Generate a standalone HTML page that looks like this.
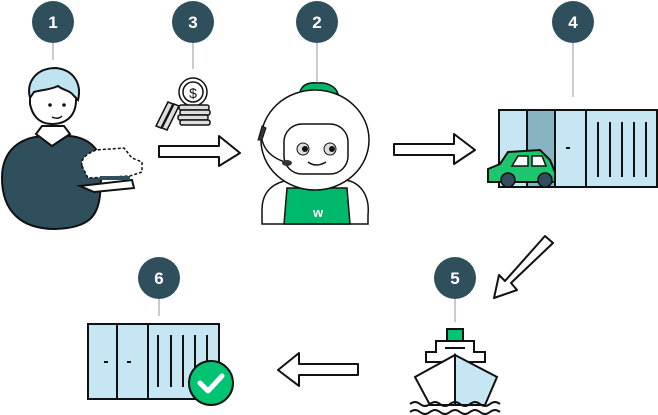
<!DOCTYPE html>
<html><head><meta charset="utf-8"><style>
html,body{margin:0;padding:0;background:#fff}
svg{display:block}
text{font-family:"Liberation Sans",sans-serif;font-weight:bold;fill:#fff;font-size:17px;text-anchor:middle}
</style></head><body>
<svg width="658" height="415" viewBox="0 0 658 415" xmlns="http://www.w3.org/2000/svg">
<g stroke="#c8ccd0" stroke-width="2">
<line x1="53" y1="42" x2="53" y2="60"/>
<line x1="193" y1="42" x2="193" y2="69"/>
<line x1="317" y1="42" x2="317" y2="82"/>
<line x1="573" y1="42" x2="573" y2="97"/>
<line x1="159" y1="298" x2="159" y2="316"/>
<line x1="455" y1="298" x2="455" y2="322"/>
</g>
<g fill="#2f4f5c">
<circle cx="53" cy="22" r="21"/><circle cx="193" cy="22" r="21"/>
<circle cx="317" cy="22" r="21"/><circle cx="573" cy="22" r="21"/>
<circle cx="159" cy="278" r="21"/><circle cx="455" cy="278" r="21"/>
</g>
<text x="53" y="28">1</text><text x="193" y="28">3</text><text x="317" y="28">2</text>
<text x="573" y="28">4</text><text x="159" y="284">6</text><text x="455" y="284">5</text>

<!-- arrows -->
<g fill="#fff" stroke="#111" stroke-width="2" stroke-linejoin="round">
<path d="M159,146 H219 V136 L240,153 L219,166 V157 H159 Z"/>
<path d="M394,144 H454 V134 L475,150 L454,164 V155 H394 Z"/>
<path d="M545,236 L553,243 L511,283 L517,290 L494,298 L499,275 L505,281 Z"/>
<path d="M358,364 H299 V353 L278,370 L299,386 V375 H358 Z"/>
</g>

<!-- person -->
<path d="M2,178 C2,150 20,138 42,136 L70,136 C90,138 100,150 102,165 L100,195 C98,215 90,228 55,229 C20,229 2,210 2,178 Z" fill="#2f4f5c" stroke="#111" stroke-width="2"/>
<path d="M36,134 L52,146 L70,134 L64,126 L42,126 Z" fill="#fff" stroke="#111" stroke-width="2"/>
<path d="M30,96 C28,80 40,70 56,72 C70,74 78,86 76,100 C76,116 66,124 52,124 C38,124 32,114 30,104 Z" fill="#fff" stroke="#111" stroke-width="2"/>
<path d="M30,98 C26,82 36,68 56,68 C74,70 82,84 78,100 L74,96 C70,90 62,90 58,86 C50,90 40,90 34,92 Z" fill="#bfe3f0" stroke="#111" stroke-width="2"/>
<circle cx="50" cy="105" r="1.8" fill="#111"/><circle cx="64" cy="105" r="1.8" fill="#111"/>
<path d="M52,117 Q58,120 62,116" stroke="#111" fill="none" stroke-width="1.5"/>
<path d="M80,186 L132,180 L134,188 L94,192 Z" fill="#fff" stroke="#111" stroke-width="2"/>
<path d="M82,166 C80,156 92,152 96,150 L124,148 L132,158 L142,162 L142,172 L130,176 L88,178 Z" fill="#fff" stroke="#111" stroke-width="1.5" stroke-dasharray="3,2"/>
<rect x="100" y="176" width="30" height="4" fill="#2f4f5c"/>

<!-- coins -->
<g stroke="#111" stroke-width="1.5" fill="#fff">
<circle cx="193" cy="92" r="14"/><circle cx="193" cy="92" r="10"/>
<rect x="179" y="105" width="30" height="5" rx="2" fill="#ddd"/>
<rect x="180" y="110" width="30" height="5" rx="2" fill="#ddd"/>
<rect x="178" y="115" width="30" height="5" rx="2" fill="#ddd"/>
<rect x="180" y="120" width="30" height="5" rx="2" fill="#ddd"/>
<path d="M156,126 L168,102 L173,104 L161,128 Z" fill="#ddd"/>
<path d="M162,128 L174,104 L179,106 L167,130 Z" fill="#ddd"/>
</g>
<text x="193" y="98" style="fill:#111;font-size:14px;font-weight:normal">$</text>

<!-- robot -->
<path d="M262,210 C262,190 275,182 290,180 L345,180 C360,182 370,195 368,215 L368,224 L262,224 Z" fill="#fff" stroke="#111" stroke-width="1.5"/>
<path d="M287,188 L347,188 L350,224 L284,224 Z" fill="#00b86b" stroke="#111" stroke-width="1.5"/>
<text x="318" y="217" style="font-size:13px">w</text>
<path d="M300,92 C302,84 310,82 318,83 C326,82 336,86 338,94 Z" fill="#00b86b" stroke="#111" stroke-width="1.5"/>
<ellipse cx="315" cy="140" rx="54" ry="50" fill="#fff" stroke="#111" stroke-width="1.5"/>
<rect x="284" y="124" width="64" height="50" rx="18" fill="#fff" stroke="#111" stroke-width="1.5"/>
<circle cx="303" cy="149" r="6" fill="#ddd" stroke="#111"/><circle cx="330" cy="149" r="6" fill="#ddd" stroke="#111"/>
<circle cx="305" cy="149" r="3" fill="#111"/><circle cx="332" cy="149" r="3" fill="#111"/>
<path d="M308,162 Q316,168 326,162" fill="none" stroke="#111" stroke-width="1.5"/>
<path d="M262,126 L258,140 L262,140 L266,128 Z" fill="#333" stroke="#111"/>
<path d="M262,140 Q266,156 285,162" fill="none" stroke="#111" stroke-width="1.5"/>
<ellipse cx="287" cy="163" rx="5" ry="3" fill="#333"/>

<!-- container 4 -->
<g stroke="#111" stroke-width="2">
<rect x="499" y="110" width="158" height="77" fill="#c5e6f2"/>
<rect x="527" y="110" width="28" height="77" fill="#88b3c0"/>
<line x1="555" y1="110" x2="555" y2="187"/><line x1="586" y1="110" x2="586" y2="187"/>
<line x1="598" y1="122" x2="598" y2="177"/><line x1="610" y1="122" x2="610" y2="177"/>
<line x1="622" y1="122" x2="622" y2="177"/><line x1="634" y1="122" x2="634" y2="177"/>
<line x1="646" y1="122" x2="646" y2="177"/><line x1="566" y1="148" x2="570" y2="148"/>
</g>
<path d="M488,169 L500,164 L508,152 L540,150 L550,160 L555,172 L555,182 L488,182 Z" fill="#1fc46e" stroke="#111" stroke-width="2"/>
<path d="M512,166 L518,156 L528,156 L528,166 Z M532,156 L542,156 L546,166 L532,166 Z" fill="#fff" stroke="#111" stroke-width="1.5"/>
<circle cx="508" cy="180" r="7" fill="#2f4f5c" stroke="#111" stroke-width="1.5"/>
<circle cx="545" cy="180" r="7" fill="#2f4f5c" stroke="#111" stroke-width="1.5"/>

<!-- container 6 -->
<g stroke="#111" stroke-width="2">
<rect x="88" y="324" width="131" height="75" fill="#c5e6f2"/>
<line x1="117" y1="324" x2="117" y2="399"/><line x1="148" y1="324" x2="148" y2="399"/>
<line x1="104" y1="362" x2="108" y2="362"/><line x1="127" y1="362" x2="131" y2="362"/>
<line x1="158" y1="335" x2="158" y2="387"/><line x1="171" y1="335" x2="171" y2="387"/>
<line x1="183" y1="335" x2="183" y2="387"/><line x1="195" y1="335" x2="195" y2="387"/>
<line x1="207" y1="335" x2="207" y2="387"/>
</g>
<circle cx="211" cy="383" r="22" fill="#00c472" stroke="#111" stroke-width="2"/>
<path d="M200,383 L208,391 L222,376" fill="none" stroke="#fff" stroke-width="5" stroke-linecap="round" stroke-linejoin="round"/>

<!-- ship -->
<g stroke="#111" stroke-width="2">
<rect x="447" y="329" width="16" height="12" fill="#00c472"/>
<path d="M436,341 H474 V352 H485 V362 H426 V352 H436 Z" fill="#fff"/>
<path d="M415,377 L455,355 L455,405 L430,405 Z" fill="#fff"/>
<path d="M455,355 L497,377 L485,405 L455,405 Z" fill="#c5e6f2"/>
<line x1="445" y1="348" x2="465" y2="348"/>
<path d="M410,404 q5,-4 10,0 t10,0 t10,0 t10,0 t10,0 t10,0 t10,0 t10,0 t10,0" fill="none"/>
<path d="M410,412 q5,-4 10,0 t10,0 t10,0 t10,0 t10,0 t10,0 t10,0 t10,0 t10,0" fill="none"/>
</g>
</svg>
</body></html>
